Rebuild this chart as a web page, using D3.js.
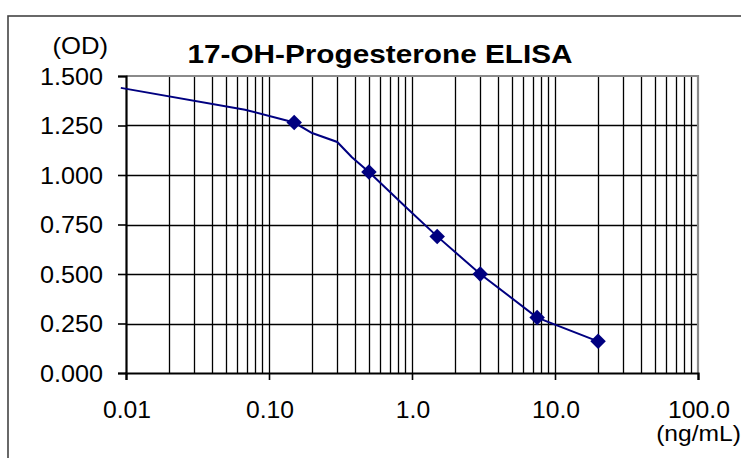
<!DOCTYPE html>
<html>
<head>
<meta charset="utf-8">
<script src="https://cdn.jsdelivr.net/npm/d3@7"></script>
<style>
  html, body { margin: 0; padding: 0; background: #fff; }
  svg { display: block; font-family: "Liberation Sans", Arial, sans-serif; }
  .grid line { stroke: #000; stroke-width: 1.3; }
  .lbl { font-size: 24px; fill: #000; }
  .unit { font-size: 22px; fill: #000; }
  .title { font-size: 25px; font-weight: bold; fill: #000; }
</style>
</head>
<body>
<svg id="chart" width="741" height="458"></svg>
<script>
// 17-OH-Progesterone ELISA standard curve
var stdConc = [0.15, 0.5, 1.5, 3, 7.5, 20];           // ng/mL
var stdOD   = [1.265, 1.015, 0.69, 0.50, 0.28, 0.16];
// fitted curve drawn through the standards
var fitConc = [0.0092, 0.068, 0.15, 0.2, 0.3, 0.38, 0.5, 0.9, 1.5, 3, 7.5, 20];
var fitOD   = [1.44, 1.33, 1.265, 1.212, 1.167, 1.09, 1.015, 0.84, 0.69, 0.50, 0.28, 0.16];
var xTicks = [0.01, 0.1, 1, 10, 100];
var xTickLabels = ["0.01", "0.10", "1.0", "10.0", "100.0"];
var yTicks = [0, 0.25, 0.5, 0.75, 1, 1.25, 1.5];

var svg = d3.select("#chart");
var L = 126, R = 698, T = 76, B = 373;
var x = d3.scaleLog().domain([0.01, 100]).range([L, R]);
var y = d3.scaleLinear().domain([0, 1.5]).range([B, T]);

// outer frame (runs off the right/bottom edge)
svg.append("rect").attr("x", 8).attr("y", 16).attr("width", 760).attr("height", 470)
  .attr("fill", "none").attr("stroke", "#444").attr("stroke-width", 1.6);

// grid
var g = svg.append("g").attr("class", "grid");
g.selectAll("line.v").data(x.ticks().filter(function (d) { return d > 0.0100001 && d < 99.99; }))
  .enter().append("line")
  .attr("x1", function (d) { return Math.round(x(d)) + 0.5; }).attr("x2", function (d) { return Math.round(x(d)) + 0.5; })
  .attr("y1", T).attr("y2", B);
g.selectAll("line.h").data(yTicks.slice(1, -1)).enter().append("line")
  .attr("x1", L).attr("x2", R)
  .attr("y1", function (d) { return Math.round(y(d)) + 0.5; }).attr("y2", function (d) { return Math.round(y(d)) + 0.5; });

// plot-area border top/right (grey)
svg.append("path").attr("d", "M" + L + "," + T + "H" + R + "V" + B)
  .attr("fill", "none").attr("stroke", "#8a8a8a").attr("stroke-width", 2.2);

// axes
var yAx = svg.append("g").attr("transform", "translate(" + L + ",0)")
  .call(d3.axisLeft(y).tickValues(yTicks).tickSize(8).tickFormat(""));
var xAx = svg.append("g").attr("transform", "translate(0," + B + ")")
  .call(d3.axisBottom(x).tickValues(xTicks).tickSize(7).tickFormat(""));
[yAx, xAx].forEach(function (a) {
  a.select(".domain").attr("stroke", "#000").attr("stroke-width", 2.2);
  a.selectAll(".tick line").attr("stroke", "#000").attr("stroke-width", 1.6);
});

// tick labels (slightly wide face in the original)
function wide(sel, sx) {
  sel.attr("transform", function () {
    var t = d3.select(this), px = +t.attr("x"), py = +t.attr("y");
    return "translate(" + px + "," + py + ") scale(" + sx + ",1) translate(" + (-px) + "," + (-py) + ")";
  });
}
svg.selectAll("text.yl").data(yTicks).enter().append("text").attr("class", "lbl")
  .attr("x", 103).attr("y", function (d) { return y(d) + 9; })
  .attr("text-anchor", "end").text(function (d) { return d.toFixed(3); }).call(wide, 1.05);
svg.selectAll("text.xl").data(xTicks).enter().append("text").attr("class", "lbl")
  .attr("x", function (d) { return x(d) + 1; }).attr("y", 418)
  .attr("text-anchor", "middle").text(function (d, i) { return xTickLabels[i]; }).call(wide, 1.03);

svg.append("text").attr("class", "lbl").attr("x", 108).attr("y", 54).attr("text-anchor", "end").text("(OD)").call(wide, 1.07);
svg.append("text").attr("class", "unit").attr("x", 741).attr("y", 441).attr("text-anchor", "end").text("(ng/mL)").call(wide, 1.12);
svg.append("text").attr("class", "title").attr("x", 380).attr("y", 63).attr("text-anchor", "middle")
  .text("17-OH-Progesterone ELISA").call(wide, 1.19);

// fitted curve
var fit = fitConc.map(function (c, i) { return [c, fitOD[i]]; });
svg.append("path").datum(fit)
  .attr("d", d3.line().x(function (d) { return x(d[0]); }).y(function (d) { return y(d[1]); }))
  .attr("fill", "none").attr("stroke", "#000080").attr("stroke-width", 2);

// standards
var std = stdConc.map(function (c, i) { return [c, stdOD[i]]; });
svg.selectAll("path.pt").data(std).enter().append("path")
  .attr("d", d3.symbol(d3.symbolSquare, 120)())
  .attr("transform", function (d) { return "translate(" + x(d[0]) + "," + y(d[1]) + ") rotate(45)"; })
  .attr("fill", "#000080");
</script>
</body>
</html>
